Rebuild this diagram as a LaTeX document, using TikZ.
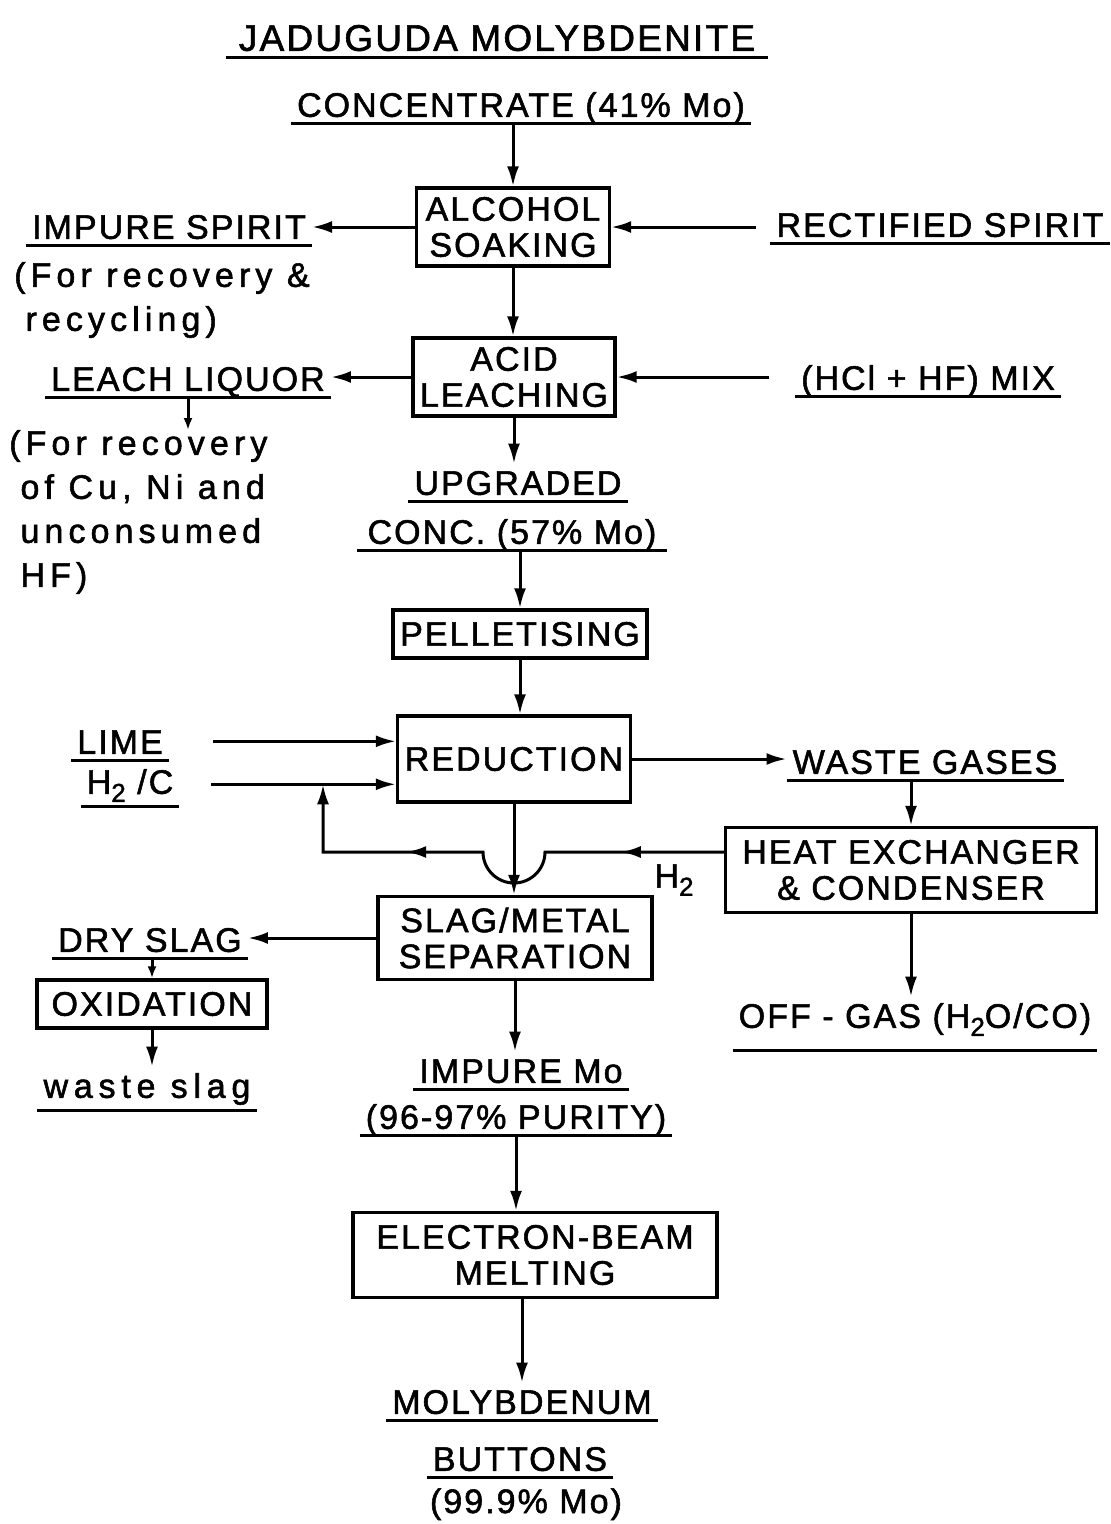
\documentclass[tikz,border=0pt]{standalone}
\usepackage{fontspec}
\setmainfont{Liberation Sans}[LetterSpace=6, FakeBold=1.6]
\usetikzlibrary{arrows.meta,positioning,decorations.markings}

\newcommand{\subidx}[1]{\raisebox{-0.45ex}{\fontsize{26}{26}\selectfont #1}}

\tikzset{
	pipe/.style={line width=3pt},
	flow/.style={pipe, -{Latex[length=20pt,width=12pt]}},
	smallflow/.style={pipe, -{Latex[length=12pt,width=9pt]}},
	box/.style={draw, line width=3.4pt, align=center, inner sep=3pt, font=\fontsize{34}{36}\selectfont},
	tag/.style={inner xsep=6pt, inner ysep=0pt, font=\fontsize{34}{44}\selectfont},
	utag/.style={tag, text height=25pt, text depth=0pt, inner ysep=6pt, anchor=south,
		append after command={(\tikzlastnode.south west) edge[pipe] (\tikzlastnode.south east)}},
	note/.style={tag, inner xsep=0pt, align=left, anchor=north west, font=\fontsize{34}{44}\selectfont\addfontfeatures{LetterSpace=15}},
}

\begin{document}
\begin{tikzpicture}[x=1pt, y=-1pt]
	\useasboundingbox (0,0) rectangle (1111,1524);

	% feed
	\node[utag, inner xsep=13pt, font=\fontsize{37}{44}\selectfont]	(title)	at (497,57)	{JADUGUDA MOLYBDENITE};
	\node[utag]	(conc)	at (521,123)	{CONCENTRATE (41\% Mo)};

	% process boxes
	\node[box, minimum width=193, minimum height=78]	(soak)	at (513,227)	{ALCOHOL\\SOAKING};
	\node[box, minimum width=202, minimum height=78]	(acid)	at (514,377)	{ACID\\LEACHING};
	\node[box, minimum width=254, minimum height=48]	(pellet)	at (520,634)	{PELLETISING};
	\node[box, minimum width=233, minimum height=86]	(reduction)	at (514,759)	{REDUCTION};
	\node[box, minimum width=371, minimum height=85]	(hx)	at (911,870)	{HEAT EXCHANGER\\\& CONDENSER};
	\node[box, minimum width=274, minimum height=83]	(slag)	at (515,938)	{SLAG/METAL\\SEPARATION};
	\node[box, minimum width=230, minimum height=48]	(oxid)	at (152,1004)	{OXIDATION};
	\node[box, minimum width=364, minimum height=85]	(ebm)	at (535,1255)	{ELECTRON-BEAM\\MELTING};

	% streams
	\node[utag]	(impure)	at (169,245)	{IMPURE SPIRIT};
	\node[note]	(impnote)	at (14,262)	{(For recovery \&\\\phantom{(}recycling)};
	\node[utag]	(rect)	at (940,243)	{RECTIFIED SPIRIT};
	\node[utag]	(leach)	at (188,397)	{LEACH LIQUOR};
	\node[note]	(leachnote)	at (9,430)	{(For recovery\\\phantom{(}of Cu, Ni and\\\phantom{(}unconsumed\\\phantom{(}HF)};
	\node[utag]	(hclmix)	at (928,396)	{(HCl + HF) MIX};
	\node[utag]	(upgr)	at (518,501)	{UPGRADED};
	\node[utag, inner xsep=10pt]	(conc57)	at (512,550)	{CONC. (57\% Mo)};
	\node[utag]	(lime)	at (120,760)	{LIME};
	\node[utag, text depth=6pt]	(htwoc)	at (130,806)	{H\subidx{2} /C};
	\node[utag]	(waste)	at (925,780)	{WASTE GASES};
	\node[tag]	(htwo)	at (674,880)	{H\subidx{2}};
	\node[utag]	(dry)	at (150,958)	{DRY SLAG};
	\node[utag, text depth=6pt, font=\fontsize{34}{44}\selectfont\addfontfeatures{LetterSpace=17}]	(wslag)	at (147,1110)	{waste slag};
	\node[utag, text depth=16pt]	(offgas)	at (915,1050)	{OFF - GAS (H\subidx{2}O/CO)};
	\node[utag]	(impmo)	at (521,1089)	{IMPURE Mo};
	\node[utag]	(purity)	at (516,1135)	{(96-97\% PURITY)};
	\node[utag]	(molyb)	at (522,1420)	{MOLYBDENUM};
	\node[utag]	(buttons)	at (520,1477)	{BUTTONS};
	\node[tag, anchor=base]	(pure)	at (526,1513)	{(99.9\% Mo)};

	\coordinate (cross)	at (reduction.south |- 0,852);
	\coordinate (back)	at (323,852);

	% main line
	\draw[flow]	(soak.north |- conc.south) -- (soak.north);
	\draw[flow]	(soak.south) -- (soak.south |- acid.north);
	\draw[flow]	(acid.south) -- (acid.south |- upgr.north);
	\draw[flow]	(pellet.north |- conc57.south) -- (pellet.north);
	\draw[flow]	(pellet.south) -- (pellet.south |- reduction.north);
	\draw[flow]	(reduction.south) -- (reduction.south |- slag.north);
	\draw[flow]	(slag.south) -- (slag.south |- impmo.north);
	\draw[flow]	(purity.south) -- (purity.south |- ebm.north);
	\draw[flow]	(molyb.north |- ebm.south) -- (molyb.north);

	% side streams
	\draw[flow]	(soak.west) -- (impure.east |- soak.west);
	\draw[flow]	([xshift=-14pt]rect.west |- soak.east) -- (soak.east);
	\draw[flow]	(acid.west) -- (leach.east |- acid.west);
	\draw[flow]	([xshift=-26pt]hclmix.west |- acid.east) -- (acid.east);
	\draw[smallflow]	(leach.south) -- (leach.south |- leachnote.north);
	\draw[flow]	([xshift=44pt]lime.east) -- (reduction.west |- lime.east);
	\draw[flow]	([xshift=32pt]htwoc.east) -- (reduction.west |- htwoc.east);
	\draw[flow]	(reduction.east) -- (waste.west |- reduction.east);
	\draw[flow]	(hx.north |- waste.south) -- (hx.north);
	\draw[flow]	(hx.south) -- (hx.south |- offgas.north);
	\draw[flow]	(slag.west) -- (dry.east |- slag.west);
	\draw[smallflow]	(oxid.north |- dry.south) -- (oxid.north);
	\draw[flow]	(oxid.south) -- (oxid.south |- wslag.north);

	% hydrogen recycle
	\draw[flow, postaction=decorate, decoration={markings,
			mark=at position 103pt with {\arrow{Latex[length=20pt,width=12pt]}},
			mark=at position 353pt with {\arrow{Latex[length=20pt,width=12pt]}}}]
		([yshift=18pt]hx.west) -- ([xshift=31pt]cross) arc[start angle=0, end angle=180, radius=31]
		-- (back) -- (back |- htwoc.east);

\end{tikzpicture}
\end{document}
